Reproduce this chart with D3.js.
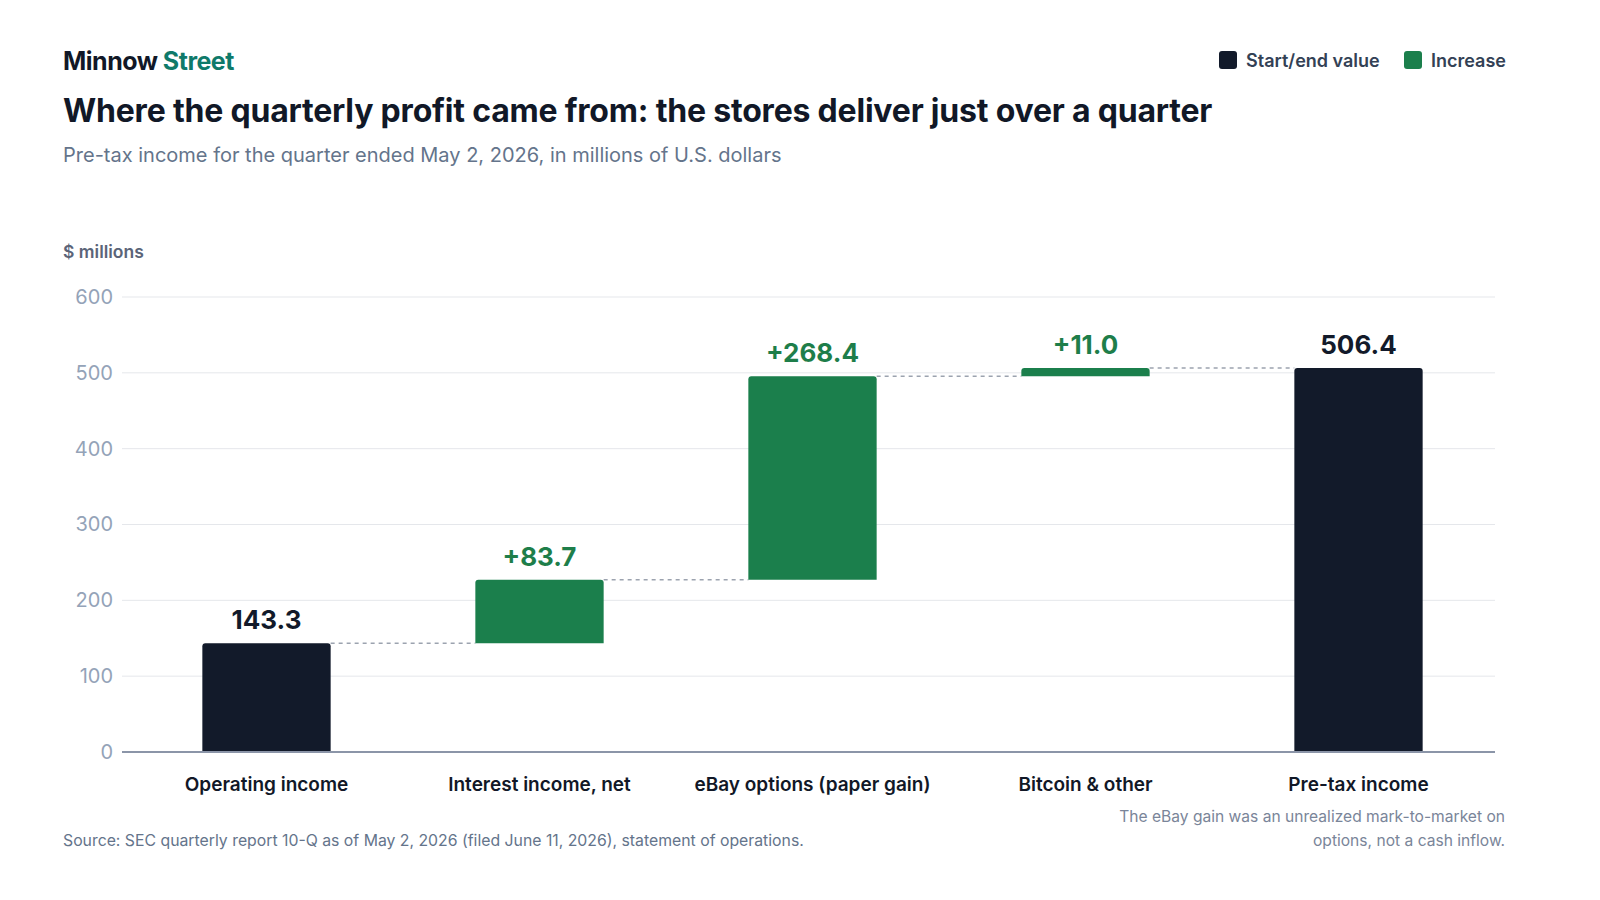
<!DOCTYPE html>
<html>
<head>
<meta charset="utf-8">
<script src="https://cdn.jsdelivr.net/npm/d3@7"></script>
<style>
  html, body { margin: 0; padding: 0; background: #ffffff; overflow: hidden; }
  svg { display: block; font-family: Inter, "Noto Sans", sans-serif; }
</style>
</head>
<body>
<div id="chart"></div>
<script>
// data
const categories = ["Operating income", "Interest income, net", "eBay options (paper gain)", "Bitcoin & other", "Pre-tax income"];
const stepValues = [143.3, 83.7, 268.4, 11.0, 506.4];
const stepKinds = ["total", "increase", "increase", "increase", "total"];
const yTicks = [0, 100, 200, 300, 400, 500, 600];
const legendItems = ["Start/end value", "Increase"];

const width = 1600, height = 900;
const darkColor = "#121a2a";
const greenColor = "#1b7f4c";

const svg = d3.select("#chart").append("svg")
    .attr("width", width)
    .attr("height", height);

// build waterfall steps
let running = 0;
const steps = categories.map((cat, i) => {
    let y0, y1;
    if (stepKinds[i] === "total") {
        y0 = 0; y1 = stepValues[i];
        running = stepValues[i];
    } else {
        y0 = running; y1 = running + stepValues[i];
        running = y1;
    }
    return {category: cat, value: stepValues[i], kind: stepKinds[i], y0: y0, y1: y1};
});

const xScale = d3.scaleBand()
    .domain(categories)
    .range([130, 1495])
    .paddingInner(0.53)
    .paddingOuter(0.265);
const yScale = d3.scaleLinear().domain([0, 600]).range([752, 297]);

// header
const brand = svg.append("text")
    .attr("x", 63).attr("y", 70)
    .attr("font-size", 25).attr("font-weight", 700)
    .attr("letter-spacing", -0.5)
    .attr("fill", "#111827");
brand.append("tspan").text("Minnow ");
brand.append("tspan").attr("fill", "#0f7a6a").text("Street");

svg.append("text")
    .attr("x", 63).attr("y", 122)
    .attr("font-size", 32).attr("font-weight", 700)
    .attr("letter-spacing", -0.2)
    .attr("fill", "#111827")
    .text("Where the quarterly profit came from: the stores deliver just over a quarter");

svg.append("text")
    .attr("x", 63).attr("y", 162)
    .attr("font-size", 20)
    .attr("fill", "#64748b")
    .text("Pre-tax income for the quarter ended May 2, 2026, in millions of U.S. dollars");

// legend
const legendG = svg.append("g").attr("class", "legendG");
const legendX = [1219, 1404];
legendItems.forEach((item, i) => {
    legendG.append("rect")
        .attr("x", legendX[i]).attr("y", 51)
        .attr("width", 18).attr("height", 18).attr("rx", 3)
        .attr("fill", i === 0 ? darkColor : greenColor);
    legendG.append("text")
        .attr("x", legendX[i] + 27).attr("y", 67)
        .attr("font-size", 18).attr("font-weight", 600)
        .attr("fill", "#334155")
        .text(item);
});

// y axis label
svg.append("text")
    .attr("x", 63).attr("y", 258)
    .attr("font-size", 17.5).attr("font-weight", 600)
    .attr("fill", "#5b6478")
    .text("$ millions");

// gridlines
svg.append("g")
    .selectAll("line")
    .data(yTicks.filter(t => t > 0))
    .join("line")
    .attr("x1", 122).attr("x2", 1495)
    .attr("y1", t => yScale(t)).attr("y2", t => yScale(t))
    .attr("stroke", "#e5e7eb").attr("stroke-width", 1);

// y axis ticks
const yAxisG = svg.append("g")
    .attr("transform", "translate(122,0)")
    .call(d3.axisLeft(yScale).tickValues(yTicks).tickSize(0).tickPadding(9));
yAxisG.select(".domain").remove();
yAxisG.selectAll("text")
    .attr("font-family", "Inter, 'Noto Sans', sans-serif")
    .attr("font-size", 20)
    .attr("fill", "#94a3b8");

// connectors
svg.append("g")
    .selectAll("line")
    .data(steps.slice(0, -1))
    .join("line")
    .attr("x1", (d) => xScale(d.category) + xScale.bandwidth())
    .attr("x2", (d, i) => xScale(categories[i + 1]))
    .attr("y1", d => yScale(d.y1))
    .attr("y2", d => yScale(d.y1))
    .attr("stroke", "#9ca3af").attr("stroke-width", 1.5)
    .attr("stroke-dasharray", "4,4");

// bars
svg.append("g")
    .selectAll("path")
    .data(steps)
    .join("path")
    .attr("d", d => {
        const x = xScale(d.category), w = xScale.bandwidth();
        const top = yScale(d.y1), bottom = yScale(d.y0), r = 3;
        return `M${x},${bottom} L${x},${top + r} Q${x},${top} ${x + r},${top} L${x + w - r},${top} Q${x + w},${top} ${x + w},${top + r} L${x + w},${bottom} Z`;
    })
    .attr("fill", d => d.kind === "total" ? darkColor : greenColor);

// baseline
svg.append("line")
    .attr("x1", 122).attr("x2", 1495)
    .attr("y1", yScale(0)).attr("y2", yScale(0))
    .attr("stroke", "#8b95a8").attr("stroke-width", 2);

// value labels
svg.append("g")
    .selectAll("text")
    .data(steps)
    .join("text")
    .attr("x", d => xScale(d.category) + xScale.bandwidth() / 2)
    .attr("y", d => yScale(d.y1) - 14)
    .attr("text-anchor", "middle")
    .attr("font-size", 26).attr("font-weight", 700)
    .attr("fill", d => d.kind === "total" ? darkColor : "#1e7e4a")
    .text(d => (d.kind === "total" ? "" : "+") + d.value.toFixed(1));

// category labels
svg.append("g")
    .selectAll("text")
    .data(categories)
    .join("text")
    .attr("x", d => xScale(d) + xScale.bandwidth() / 2)
    .attr("y", 791)
    .attr("text-anchor", "middle")
    .attr("font-size", 19).attr("font-weight", 600)
    .attr("fill", "#111827")
    .text(d => d);

// footer
svg.append("text")
    .attr("x", 63).attr("y", 846)
    .attr("font-size", 15.8)
    .attr("fill", "#64748b")
    .text("Source: SEC quarterly report 10-Q as of May 2, 2026 (filed June 11, 2026), statement of operations.");

const note = svg.append("text")
    .attr("x", 1505).attr("y", 822)
    .attr("text-anchor", "end")
    .attr("font-size", 15.6)
    .attr("fill", "#7a8599");
note.append("tspan").attr("x", 1505).text("The eBay gain was an unrealized mark-to-market on");
note.append("tspan").attr("x", 1505).attr("dy", 24).text("options, not a cash inflow.");
</script>
</body>
</html>
